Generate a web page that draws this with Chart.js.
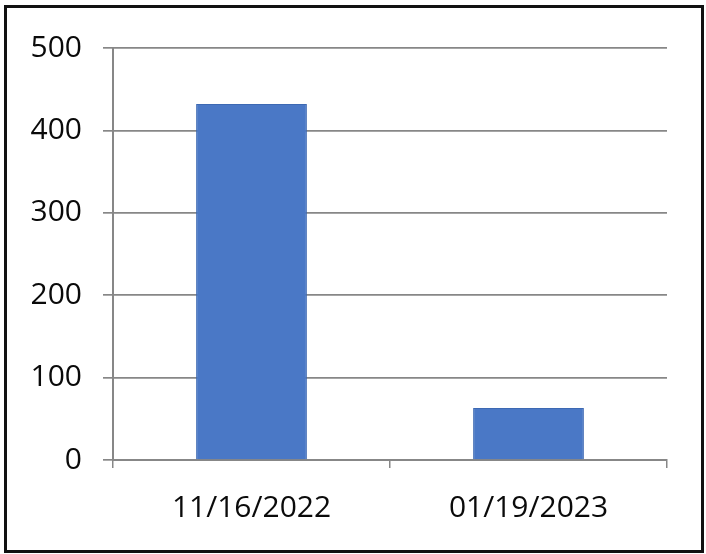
<!DOCTYPE html>
<html>
<head>
<meta charset="utf-8">
<script src="https://cdn.jsdelivr.net/npm/chart.js@4"></script>
<style>
  html, body { margin: 0; padding: 0; background: #fff; }
  #wrap { position: relative; width: 706px; height: 554px; }
  #frame { position: absolute; left: 4px; top: 5px; width: 694px; height: 542px; border: 3px solid #111; pointer-events: none; }
  canvas { position: absolute; left: 0; top: 0; }
</style>
</head>
<body>
<div id="wrap">
  <canvas id="c" width="706" height="554"></canvas>
  <div id="frame"></div>
</div>
<script>
const categories = ["11/16/2022", "01/19/2023"];
const values = [432, 63];
const yTicks = [0, 100, 200, 300, 400, 500];

const gridGray = "#878787";
const textColor = "#0a0a0a";
const font = { family: "'Open Sans', sans-serif", size: 30 };

new Chart(document.getElementById("c"), {
  type: "bar",
  data: {
    labels: categories,
    datasets: [{
      data: values,
      backgroundColor: "#4a78c6",
      borderColor: "#3d69b3",
      borderWidth: 1,
      barPercentage: 0.4,
      categoryPercentage: 1.0
    }]
  },
  options: {
    responsive: false,
    animation: false,
    devicePixelRatio: 1,
    layout: { padding: { left: 0, top: 48, right: 39, bottom: 0 } },
    plugins: { legend: { display: false }, tooltip: { enabled: false } },
    scales: {
      x: {
        offset: true,
        grid: { display: true, drawOnChartArea: false, drawTicks: true, tickLength: 8, offset: true, color: gridGray, lineWidth: 1.5 },
        border: { display: true, color: gridGray, width: 2 },
        ticks: { color: textColor, font: font, padding: 22, maxRotation: 0, autoSkip: false },
        afterFit: (s) => { s.height = 94; }
      },
      y: {
        min: 0,
        max: 500,
        afterBuildTicks: (s) => { s.ticks = yTicks.map(v => ({ value: v })); },
        grid: { color: gridGray, lineWidth: 1.7, tickLength: 10, drawTicks: true },
        border: { display: true, color: gridGray, width: 2 },
        ticks: { color: textColor, font: font, padding: 21 },
        afterFit: (s) => { s.width = 113; }
      }
    }
  }
});
</script>
</body>
</html>
